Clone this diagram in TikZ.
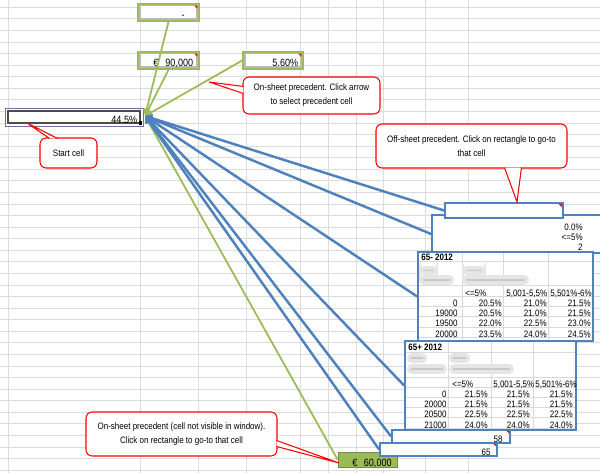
\documentclass[tikz,border=0pt]{standalone}
\usepackage{fontspec}
\setmainfont{Liberation Sans}[FakeStretch=0.86]
\usepackage{xcolor}
\usepackage{tikz}
\usetikzlibrary{positioning, arrows.meta}

\definecolor{exgreen}{RGB}{155,187,89}
\definecolor{exblue}{RGB}{79,129,189}
\definecolor{expurple}{RGB}{128,100,162}
\definecolor{gridgray}{RGB}{218,220,221}

\begin{document}
\begin{tikzpicture}[
 x=0.02cm, y=-0.02cm,
 gridline/.style={draw=gridgray, line width=0.5pt},
 cellframe/.style={rectangle, draw=exgreen, line width=0.9pt, fill=white,
   inner sep=0pt, minimum height=0.34cm},
 cellrim/.style={draw=gray!55, line width=0.9pt},
 cellval/.style={font=\fontsize{6}{7}\selectfont, inner sep=0pt, anchor=east,
   text height=1.5ex, text depth=0.25ex},
 startcell/.style={rectangle, draw=expurple, line width=0.5pt, fill=white,
   minimum width=2.76cm, minimum height=0.36cm, inner sep=0pt},
 startrim/.style={draw=black!70, line width=1.3pt},
 farcellbox/.style={rectangle, draw=exgreen!75!black, line width=0.5pt, fill=exgreen,
   minimum width=1.18cm, minimum height=0.3cm, inner sep=0pt},
 offbox/.style={rectangle, draw=exblue, line width=1pt, fill=white, inner sep=0pt},
 tabtext/.style={font=\fontsize{5.3}{6}\selectfont, inner sep=0pt,
   text height=1.5ex, text depth=0.25ex},
 tabtitle/.style={font=\fontsize{5.3}{6}\selectfont\bfseries, inner sep=0pt, anchor=west},
 tabline/.style={draw=gray!30, line width=0.4pt},
 blurtext/.style={fill=gray!42, draw=gray!20, line width=2pt, rounded corners=1.5pt},
 notemark/.style={fill=red},
 note/.style={rectangle, rounded corners=3.5pt, draw=red, line width=0.6pt, fill=white,
   align=center, font=\fontsize{5.3}{7.9}\selectfont},
 pointer/.style={draw=red, line width=0.6pt, fill=white, line join=miter},
 onlink/.style={draw=exgreen, line width=1pt, -{Triangle[length=4pt,width=4pt]}},
 offlink/.style={draw=exblue, line width=1.4pt, -{Triangle[length=4pt,width=4.5pt]}}
]
\useasboundingbox (0,0) rectangle (600,473);
\fill[white] (0,0) rectangle (600,473);

% sheet grid
\foreach \gx in {8,140,198,246,300,328,356,383,425,468}
  \draw[gridline] (\gx,0) -- (\gx,473);
\foreach \k in {0,...,40}
  \draw[gridline] (0,{7.3+11.57*\k}) -- (600,{7.3+11.57*\k});

% on-sheet precedents
\node[cellframe, minimum width=1.22cm] (topcell) at (168.5,12.5) {};
\node[cellframe, minimum width=1.22cm] (eurocell) at (168.5,60.5) {};
\node[cellframe, minimum width=1.2cm] (ratecell) at (273,60.5) {};
\foreach \c in {topcell,eurocell,ratecell} {
  \draw[cellrim] ([shift={(2.5,2.5)}]\c.north west) rectangle ([shift={(-2.5,-2.5)}]\c.south east);
  \fill[notemark] ([shift={(-2.5,2.5)}]\c.north east) -- ++(-3,0) -- ++(3,3) -- cycle;
}
\node[cellval] (topval) at (185,13) {-};
\node[cellval, anchor=west] (eurosign) at (153,60.5) {€};
\node[cellval] (euroval) at (193.5,60.5) {90,000};
\node[cellval] (rateval) at (298.5,60.5) {5.60\%};

% start cell
\node[startcell] (start) at (74,117) {};
\draw[startrim] ([shift={(3.5,3.5)}]start.north west) rectangle ([shift={(-3.5,-3.5)}]start.south east);
\fill[black] (139,121.5) rectangle (142.5,125);
\node[cellval] (startval) at (137.5,117.5) {44.5\%};
\coordinate (hub) at (145,116);

% off-sheet pictures
\node[offbox, minimum width=3.42cm, minimum height=0.76cm] (sheetB) at (517.5,234) {};
\node[tabtext, anchor=east] (bzero) at (583,225) {0.0\%};
\node[tabtext, anchor=east] (bband) at (583,235) {<=5\%};
\node[tabtext, anchor=east] (btwo) at (583,245) {2};
\node[offbox, minimum width=2.36cm, minimum height=0.3cm] (sheetA) at (504,210.5) {};
\fill[notemark] ([shift={(-2,2)}]sheetA.north east) -- ++(-3,0) -- ++(3,3) -- cycle;

% table 65- 2012
\node[offbox, minimum width=3.5cm, minimum height=1.78cm] (tabC) at (505.5,296.5) {};
\begin{scope}
  \clip (tabC.north west) rectangle (tabC.south east);
  \foreach \lx in {462,503,548} \draw[tabline] (\lx,253) -- (\lx,340);
  \foreach \ly in {261,285,296,306,316,327,337} \draw[tabline] (419,\ly) -- (592,\ly);
  \fill[blurtext] (421,268) rectangle (436,273);
  \fill[blurtext] (464,268) rectangle (484,273);
  \fill[blurtext] (421,277) rectangle (452,283);
  \fill[blurtext] (464,277) rectangle (527,283);
  \node[tabtitle] (ctitle) at (421,257) {65- 2012};
  \node[tabtext, anchor=west] (chead1) at (465,291) {<=5\%};
  \node[tabtext, anchor=west] (chead2) at (506,291) {5,001-5,5\%};
  \node[tabtext, anchor=west] (chead3) at (550,291) {5,501\%-6\%};
  \foreach \ry/\rl/\va/\vb/\vc in {301/0/20.5/21.0/21.5, 311/19000/20.5/21.0/21.5,
      321/19500/22.0/22.5/23.0, 332/20000/23.5/24.0/24.5} {
    \node[tabtext, anchor=east] (c\rl-l) at (458,\ry) {\rl};
    \node[tabtext, anchor=east] (c\rl-a) at (502,\ry) {\va\%};
    \node[tabtext, anchor=east] (c\rl-b) at (547,\ry) {\vb\%};
    \node[tabtext, anchor=east] (c\rl-c) at (591,\ry) {\vc\%};
  }
\end{scope}

% table 65+ 2012
\node[offbox, minimum width=3.42cm, minimum height=1.78cm] (tabD) at (490.5,385.5) {};
\begin{scope}
  \clip (tabD.north west) rectangle (tabD.south east);
  \foreach \lx in {448,491,533} \draw[tabline] (\lx,342) -- (\lx,429);
  \foreach \ly in {352,377,387,397,407,417,428} \draw[tabline] (406,\ly) -- (575,\ly);
  \fill[blurtext] (409,355) rectangle (425,361);
  \fill[blurtext] (451,355) rectangle (468,361);
  \fill[blurtext] (409,366) rectangle (445,372);
  \fill[blurtext] (451,366) rectangle (512,372);
  \node[tabtitle] (dtitle) at (408,347) {65+ 2012};
  \node[tabtext, anchor=west] (dhead1) at (452,382) {<=5\%};
  \node[tabtext, anchor=west] (dhead2) at (493,382) {5,001-5,5\%};
  \node[tabtext, anchor=west] (dhead3) at (535,382) {5,501\%-6\%};
  \foreach \ry/\rl/\va/\vb/\vc in {392/0/21.5/21.5/21.5, 402/20000/21.5/21.5/21.5,
      412/20500/22.5/22.5/22.5, 423/21000/24.0/24.0/24.0} {
    \node[tabtext, anchor=east] (d\rl-l) at (447,\ry) {\rl};
    \node[tabtext, anchor=east] (d\rl-a) at (488,\ry) {\va\%};
    \node[tabtext, anchor=east] (d\rl-b) at (530,\ry) {\vb\%};
    \node[tabtext, anchor=east] (d\rl-c) at (573,\ry) {\vc\%};
  }
\end{scope}

% single cells at the bottom
\node[offbox, minimum width=2.36cm, minimum height=0.26cm] (cellE) at (451,436.5) {};
\node[tabtext, anchor=east] (eval) at (503,437) {58};
\fill[notemark] ([shift={(-2,1.5)}]cellE.north east) -- ++(-2.5,0) -- ++(2.5,2.5) -- cycle;
\node[farcellbox] (farcell) at (367.5,459.5) {};
\node[cellval, anchor=center] (farsign) at (355,460.5) {€};
\node[cellval] (farval) at (392,460.5) {60,000};
\fill[notemark] ([shift={(-1,1)}]farcell.north east) -- ++(-2.5,0) -- ++(2.5,2.5) -- cycle;
\node[offbox, minimum width=2.34cm, minimum height=0.26cm] (cellF) at (438.5,449.5) {};
\node[tabtext, anchor=east] (fval) at (491,449.5) {65};
\fill[notemark] ([shift={(-2,1.5)}]cellF.north east) -- ++(-2.5,0) -- ++(2.5,2.5) -- cycle;

% tracer lines
\draw[onlink] (topcell.south) -- (hub);
\draw[onlink] (eurocell.south) -- (hub);
\draw[onlink] (ratecell.west) -- (hub);
\draw[onlink] (farcell.west) -- (hub);
\foreach \b in {sheetA,sheetB,tabC,tabD,cellE,cellF}
  \draw[offlink] (\b.west) -- (hub);

% callouts
\node[note, minimum width=2.74cm, minimum height=0.74cm] (onnote) at (311.5,95.5)
  {On-sheet precedent. Click arrow\\to select precedent cell};
\node[note, minimum width=1.14cm, minimum height=0.6cm] (startnote) at (68.5,153) {Start cell};
\node[note, minimum width=3.82cm, minimum height=0.88cm] (offnote) at (471.5,146)
  {Off-sheet precedent. Click on rectangle to go-to\\that cell};
\node[note, minimum width=3.82cm, minimum height=0.88cm] (farnote) at (181.5,434)
  {On-sheet precedent (cell not visible in window).\\Click on rectangle to go-to that cell};
\coordinate (ontip) at (209,82);
\coordinate (starttip) at (27,123);
\coordinate (offtip) at (517,202);
\coordinate (fartip) at (339,463);
\filldraw[pointer] ([shift={(1,10)}]onnote.north west) -- (ontip) -- ([shift={(1,17)}]onnote.north west);
\filldraw[pointer] ([shift={(10,1)}]startnote.north west) -- (starttip) -- ([shift={(18,1)}]startnote.north west);
\filldraw[pointer] ([shift={(129,-1)}]offnote.south west) -- (offtip) -- ([shift={(146,-1)}]offnote.south west);
\filldraw[pointer] ([shift={(-1,29)}]farnote.north east) -- (fartip) -- ([shift={(-1,35)}]farnote.north east);
\end{tikzpicture}
\end{document}
